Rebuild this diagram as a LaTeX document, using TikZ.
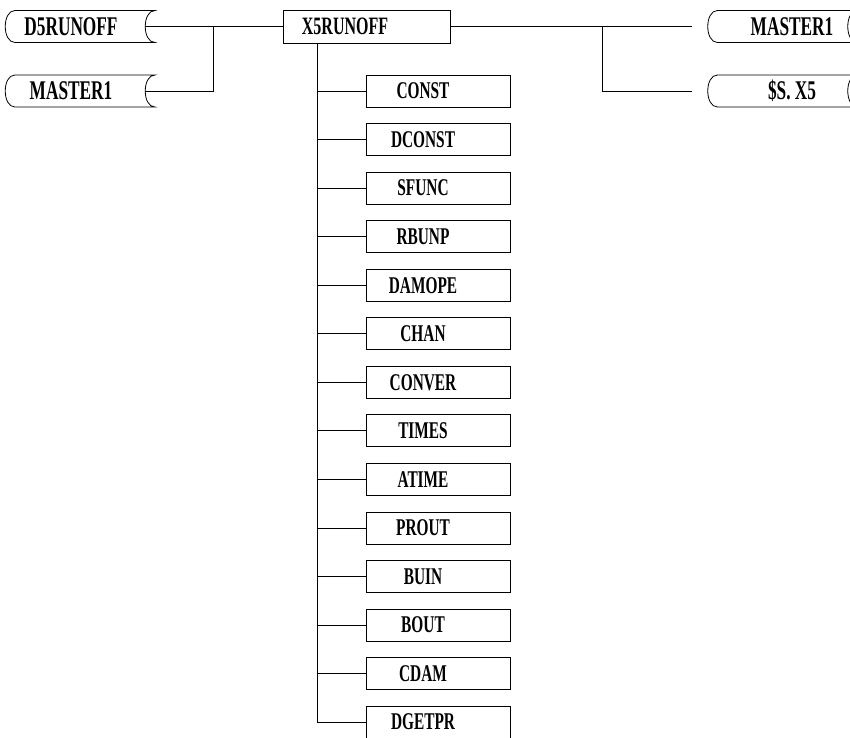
\documentclass[tikz,border=0pt]{standalone}
\usepackage{fontspec}
\usepackage{tikz}
\usetikzlibrary{positioning,calc}
\newfontfamily\boxfont{Liberation Serif Bold}[FakeStretch=0.64]

% file (data store) outline round a text node
\newcommand{\fileOutline}[1]{%
  \draw (#1.north west) .. controls ([xshift=-13pt]#1.north west) and ([xshift=-13pt]#1.south west) .. (#1.south west)
    -- ([xshift=10pt]#1.south east)
    .. controls ([xshift=-3pt]#1.south east) and ([xshift=-3pt]#1.north east) .. ([xshift=10pt]#1.north east)
    -- cycle;}

\begin{document}
\begin{tikzpicture}[
  x=1pt, y=-1pt,
  every path/.style={line width=0.8pt},
  progBox/.style={draw, rectangle, minimum width=144pt, minimum height=32pt,
                  inner sep=0pt, outer sep=0pt,
                  execute at begin node=\hspace*{-30pt},
                  font=\boxfont\fontsize{24}{26}\selectfont},
  mainBox/.style={progBox, minimum width=167pt, minimum height=33pt,
                  execute at begin node=\hspace*{-13pt},
                  font=\boxfont\fontsize{25}{27}\selectfont},
  fileNode/.style={rectangle, minimum width=130pt, minimum height=32pt,
                   inner sep=0pt, outer sep=0pt,
                   font=\boxfont\fontsize{27}{29}\selectfont}
]
  \useasboundingbox (0,0) rectangle (850,737);

  % Main program
  \node[mainBox] (x5) at (366.5,26.5) {X5RUNOFF};

  % Input files on the left
  \node[fileNode] (d5) at (80,26.5) {\hspace*{-18pt}D5RUNOFF};
  \node[fileNode] (mL) at (80,91) {\hspace*{-18pt}MASTER1};
  \fileOutline{d5}
  \fileOutline{mL}

  % Output files on the right
  \node[fileNode] (mR) at (782.5,26.5) {\hspace*{19pt}MASTER1};
  \node[fileNode] (sx) at (782.5,91) {\hspace*{19pt}\$S.\ X5};
  \fileOutline{mR}
  \fileOutline{sx}

  % Subroutines
  \node[progBox] (const) at (438,91) {CONST};
  \node[progBox, below=16.55pt of const] (dconst) {DCONST};
  \node[progBox, below=16.55pt of dconst] (sfunc) {SFUNC};
  \node[progBox, below=16.55pt of sfunc] (rbunp) {RBUNP};
  \node[progBox, below=16.55pt of rbunp] (damope) {DAMOPE};
  \node[progBox, below=16.55pt of damope] (chan) {CHAN};
  \node[progBox, below=16.55pt of chan] (conver) {CONVER};
  \node[progBox, below=16.55pt of conver] (times) {TIMES};
  \node[progBox, below=16.55pt of times] (atime) {ATIME};
  \node[progBox, below=16.55pt of atime] (prout) {PROUT};
  \node[progBox, below=16.55pt of prout] (buin) {BUIN};
  \node[progBox, below=16.55pt of buin] (bout) {BOUT};
  \node[progBox, below=16.55pt of bout] (cdam) {CDAM};
  \node[progBox, below=16.55pt of cdam] (dgetpr) {DGETPR};

  % Inputs
  \draw (d5.east) -- (x5.west);
  \draw (mL.east) -| ($(d5.east)!0.493!(x5.west)$);

  % Outputs
  \coordinate (mRin) at ([xshift=-26pt]mR.west);
  \coordinate (sxin) at ([xshift=-26pt]sx.west);
  \draw (x5.east) -- (mRin);
  \draw (sxin) -| ($(x5.east)!0.632!(mRin)$);

  % Trunk and branches
  \coordinate (trunk) at ([xshift=-49.5pt]x5.south);
  \draw (trunk) |- (dgetpr.west);
  \foreach \sub in {const,dconst,sfunc,rbunp,damope,chan,conver,times,
                    atime,prout,buin,bout,cdam}
    \draw (\sub.west) -- (trunk |- \sub.west);
\end{tikzpicture}
\end{document}
